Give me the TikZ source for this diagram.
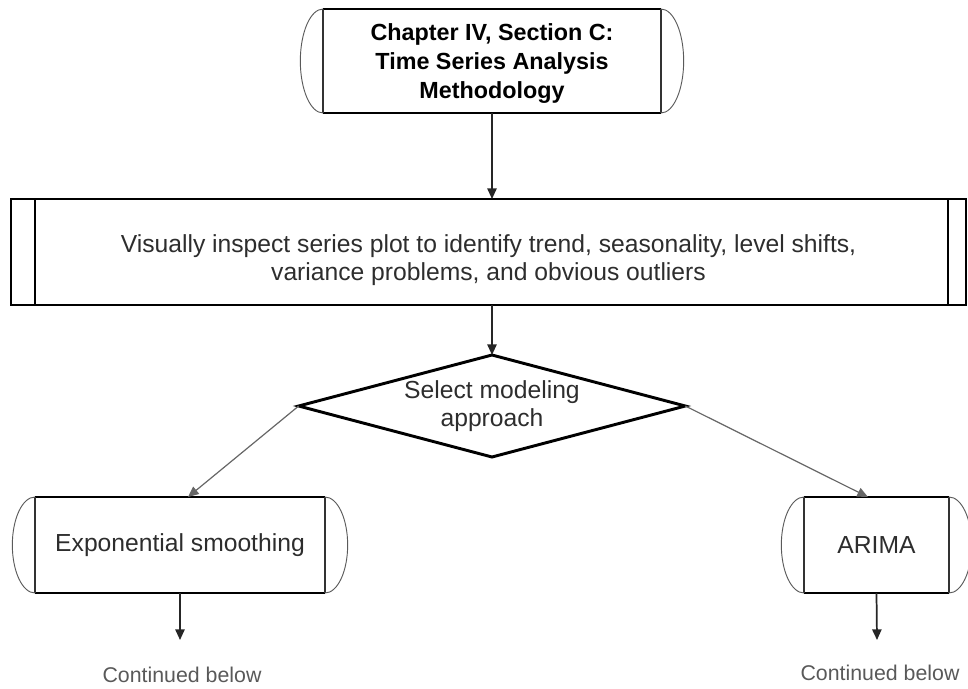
\documentclass[tikz,border=0pt]{standalone}
\usepackage{fontspec}
\setmainfont{Liberation Sans}
\usetikzlibrary{arrows.meta,shapes.geometric}
\definecolor{txt}{RGB}{45,45,45}
\definecolor{arcgray}{RGB}{90,90,90}
\newcommand\TermFrame[2]{% node name, half height (pt)
  \draw[line width=1.3pt] (#1.north west) -- (#1.north east);
  \draw[line width=2pt] (#1.south west) -- (#1.south east);
  \draw[line width=1pt, black!80] (#1.north west) -- (#1.south west);
  \draw[line width=1pt, black!80] (#1.north east) -- (#1.south east);
  \draw[line width=0.7pt, arcgray] (#1.north west) arc[start angle=90, end angle=270, x radius=17pt, y radius=#2];
  \draw[line width=0.7pt, arcgray] (#1.north east) arc[start angle=90, end angle=-90, x radius=17pt, y radius=#2];
}
\begin{document}
\begin{tikzpicture}[x=0.75pt,y=-0.75pt,
  termbox/.style={rectangle, inner sep=0pt, outer sep=0pt, align=center, text=txt,
    font=\fontsize{18.5}{21}\selectfont},
  procbox/.style={rectangle, draw, line width=2.2pt, inner sep=0pt, outer sep=0pt, align=center,
    text=txt, font=\fontsize{18.5}{21}\selectfont},
  decbox/.style={diamond, aspect=3.8, draw, line width=2.2pt, inner sep=0pt, outer sep=0pt, align=center,
    text=txt, font=\fontsize{18.5}{21}\selectfont},
  contlabel/.style={inner sep=0pt, text=black!65, font=\fontsize{16}{19}\selectfont},
  arr/.style={draw=black!85, line width=1.3pt, -{Triangle[length=8pt,width=7pt]}},
  diagarr/.style={draw=black!60, line width=0.9pt, -{Triangle[length=8pt,width=7pt]}}]
\useasboundingbox (0,0) rectangle (968,689);

% nodes
\node[termbox, minimum width=253.5pt, minimum height=78pt, text=black,
  font=\bfseries\fontsize{17.5}{21.5}\selectfont] (title) at (492,61)
  {\rule{0pt}{16.5pt}Chapter IV, Section C:\\Time Series Analysis\\Methodology};
\TermFrame{title}{39pt}

\node[procbox, minimum width=716.25pt, minimum height=79.5pt] (insp) at (488.5,252)
  {\rule{0pt}{25pt}Visually inspect series plot to identify trend, seasonality, level shifts,\\variance problems, and obvious outliers};
\draw[line width=2pt] ([xshift=18pt]insp.north west) -- ([xshift=18pt]insp.south west);
\draw[line width=2pt] ([xshift=-13.5pt]insp.north east) -- ([xshift=-13.5pt]insp.south east);

\node[decbox, minimum width=290pt, minimum height=76.5pt] (dec) at (492,406)
  {Select modeling\\approach};

\node[termbox, minimum width=217.5pt, minimum height=72pt] (exps) at (180,545)
  {Exponential smoothing};
\TermFrame{exps}{36pt}

\node[termbox, minimum width=108.75pt, minimum height=72pt] (arima) at (876.5,545)
  {ARIMA};
\TermFrame{arima}{36pt}

\node[contlabel] (cont1) at (182,675) {Continued below};
\node[contlabel] (cont2) at (880,673) {Continued below};
\coordinate (end1) at (180,640);
\coordinate (end2) at (877,640);

% connectors
\draw[arr] (title.south) -- (title.south |- insp.north);
\draw[arr] (dec.north |- insp.south) -- (dec.north);
\draw[diagarr] (dec.west) -- ([xshift=6pt]exps.north);
\draw[diagarr] (dec.east) -- ([xshift=-6.4pt]arima.north);
\draw[arr] (exps.south) -- (end1);
\draw[arr] (arima.south) -- (end2);
\end{tikzpicture}
\end{document}
